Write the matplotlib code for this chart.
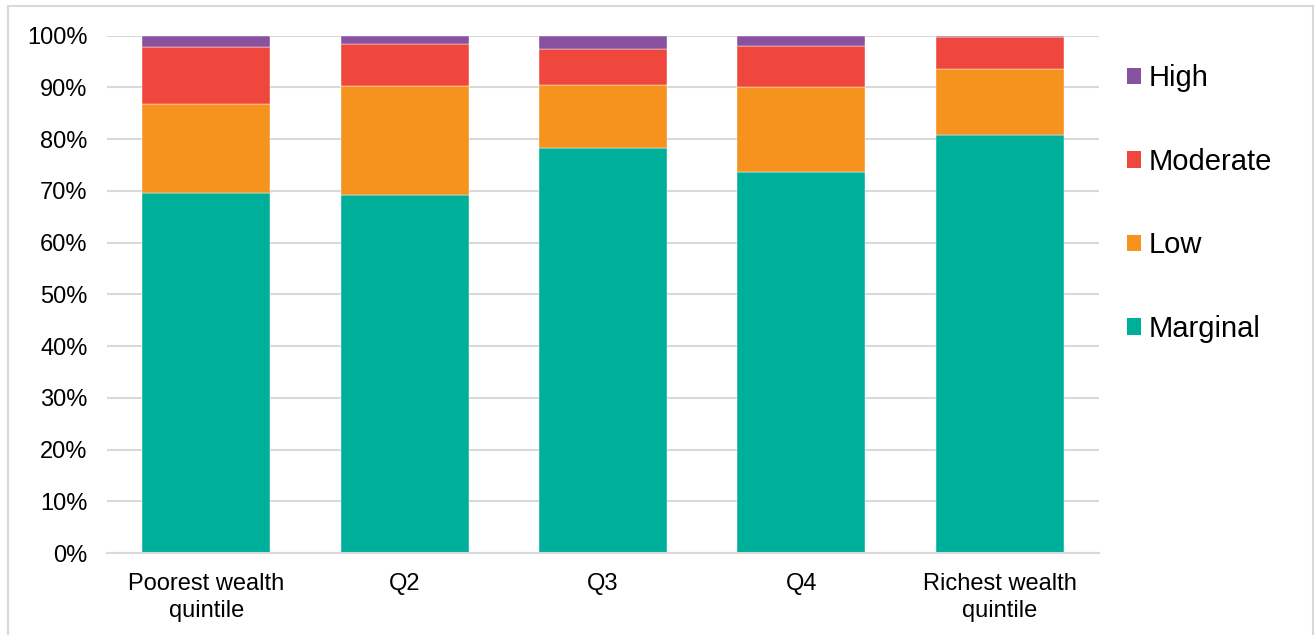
import matplotlib.pyplot as plt
from matplotlib.patches import Rectangle, Patch
from matplotlib.ticker import PercentFormatter
import numpy as np

plt.rcParams['font.family'] = ['Liberation Sans', 'DejaVu Sans']

# Share of households in each category, by wealth quintile (%)
quintiles = ["Poorest wealth\nquintile", "Q2", "Q3", "Q4", "Richest wealth\nquintile"]
marginal = [69.5, 69.2, 78.2, 73.7, 80.8]
low = [17.3, 21.0, 12.2, 16.3, 12.8]
moderate = [11.0, 8.1, 7.0, 8.0, 6.1]
high = [2.2, 1.7, 2.6, 2.0, 0.3]

series = [("Marginal", marginal, "#00AF9A"),
          ("Low", low, "#F6921E"),
          ("Moderate", moderate, "#EF473D"),
          ("High", high, "#8852A0")]

fig = plt.figure(figsize=(13.15, 6.35), dpi=100)
ax = fig.add_axes([0.0814, 0.129, 0.7544, 0.8148])

x = np.arange(len(quintiles))
bottom = np.zeros(len(quintiles))
for name, vals, color in series:
    ax.bar(x, vals, width=0.645, bottom=bottom, color=color, label=name,
           edgecolor="white", linewidth=0.3, zorder=2)
    bottom += np.array(vals)

ax.set_xlim(-0.5, len(quintiles) - 0.5)
ax.set_ylim(0, 100)
ax.set_yticks(np.arange(0, 101, 10))
ax.yaxis.set_major_formatter(PercentFormatter(decimals=0))
ax.set_xticks(x)
ax.set_xticklabels(quintiles, fontsize=17, linespacing=1.3)
ax.tick_params(axis="y", labelsize=17, length=0, pad=14)
ax.tick_params(axis="x", length=0, pad=14)
ax.grid(axis="y", color="#D9D9D9", linewidth=1.5, zorder=0)
for side in ["left", "right", "top"]:
    ax.spines[side].set_visible(False)
ax.spines["bottom"].set_color("#D9D9D9")
ax.spines["bottom"].set_linewidth(1.5)

# legend in reverse stacking order
handles = [Patch(facecolor=c, label=n) for n, _, c in reversed(series)]
fig.legend(handles=handles, loc="upper left", bbox_to_anchor=(0.848, 0.917),
           frameon=False, fontsize=21, handlelength=0.5, handleheight=0.5,
           handletextpad=0.25, labelspacing=1.9, borderaxespad=0)

# thin frame around the chart
fig.patches.append(Rectangle((8 / 1315, -0.01), 1305 / 1315, (635 - 6) / 635 + 0.01,
                             transform=fig.transFigure, fill=False,
                             edgecolor="#D9D9D9", linewidth=1.5))

fig.savefig("out.png", dpi=100)
